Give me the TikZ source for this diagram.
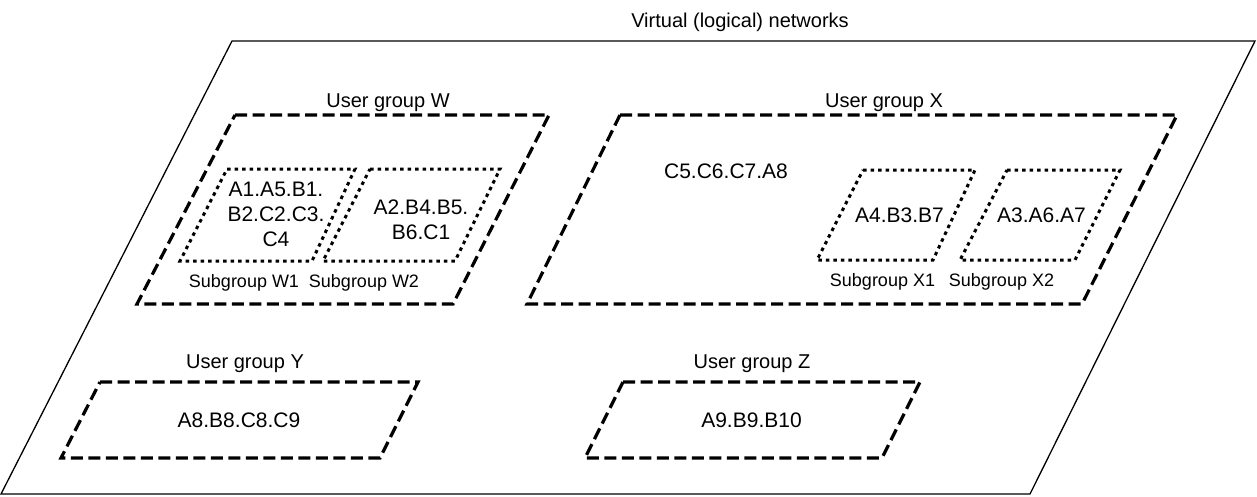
\documentclass[tikz,border=0pt]{standalone}
\usepackage{fontspec}
\setmainfont{Liberation Sans}
\begin{document}
\begin{tikzpicture}[x=1pt,y=-1pt,
  outerbox/.style={draw=black,line width=1.3pt,line join=miter},
  groupbox/.style={draw=black,line width=3.2pt,dash pattern=on 12pt off 5.5pt},
  subbox/.style={draw=black,line width=3pt,dash pattern=on 3.5pt off 4pt},
  lbl/.style={inner sep=0pt,anchor=base,font=\fontsize{20}{24}\selectfont},
  member/.style={inner sep=0pt,align=center,font=\fontsize{21}{25}\selectfont},
  sublbl/.style={inner sep=0pt,font=\fontsize{18}{21}\selectfont}]
\useasboundingbox (0,0) rectangle (1257,496);
% outer virtual network plane
\draw[outerbox] (232,41) -- (1255,41) -- (1030,494) -- (1,494) -- cycle;
\node[lbl] (title) at (740,27) {Virtual (logical) networks};
% user group W
\draw[groupbox] (235,115) -- (549,115) -- (453,304) -- (137,304) -- cycle;
\node[lbl] (lw) at (388,107) {User group W};
\draw[subbox] (227,169) -- (355,169) -- (312,261) -- (180,261) -- cycle;
\draw[subbox] (370,169) -- (500,169) -- (455,261) -- (323,261) -- cycle;
\node[member] (w1) at (276,214.5) {A1.A5.B1.\\B2.C2.C3.\\C4};
\node[member] (w2) at (421,220) {A2.B4.B5.\\B6.C1};
\node[sublbl] (sw1) at (244,282.5) {Subgroup W1};
\node[sublbl] (sw2) at (364,282.5) {Subgroup W2};
% user group X
\draw[groupbox] (620,115) -- (1177,115) -- (1082,304) -- (527,304) -- cycle;
\node[lbl] (lx) at (884,107) {User group X};
\node[member] (x0) at (726,171.5) {C5.C6.C7.A8};
\draw[subbox] (863,170) -- (975,170) -- (933,260) -- (817,260) -- cycle;
\draw[subbox] (1007,170) -- (1120,170) -- (1075,260) -- (960,260) -- cycle;
\node[member] (x1) at (899.5,215) {A4.B3.B7};
\node[member] (x2) at (1041.5,215) {A3.A6.A7};
\node[sublbl] (sx1) at (882.5,281.5) {Subgroup X1};
\node[sublbl] (sx2) at (1001.5,281.5) {Subgroup X2};
% user group Y
\draw[groupbox] (100,382) -- (418,382) -- (380,458) -- (61,458) -- cycle;
\node[lbl] (ly) at (245,368) {User group Y};
\node[member] (y0) at (239,420) {A8.B8.C8.C9};
% user group Z
\draw[groupbox] (623,382) -- (920,382) -- (882,458) -- (585,458) -- cycle;
\node[lbl] (lz) at (752,368) {User group Z};
\node[member] (z0) at (751.5,420) {A9.B9.B10};
\end{tikzpicture}
\end{document}
